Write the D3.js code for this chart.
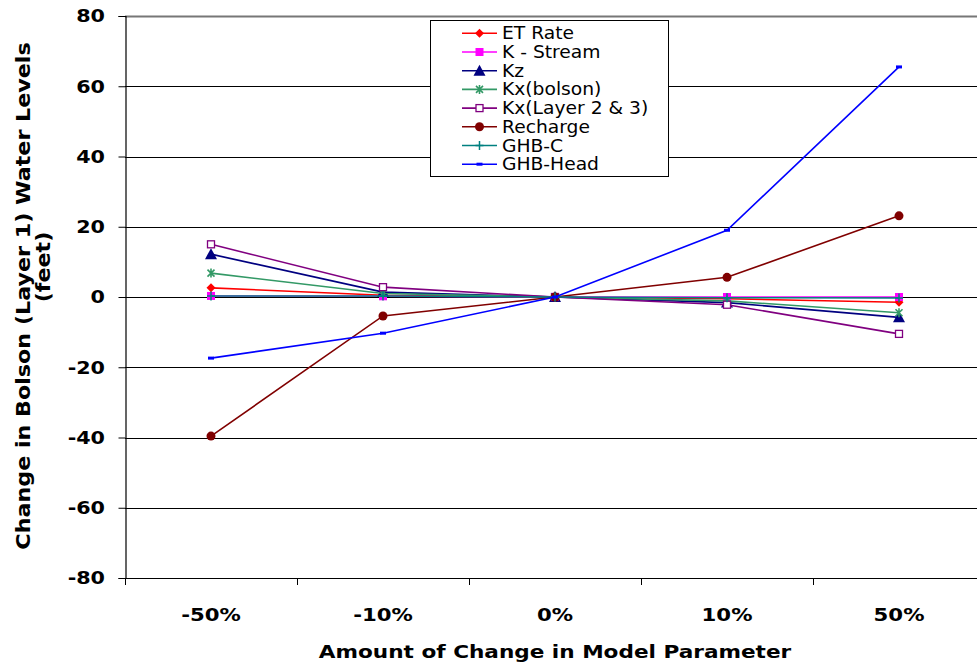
<!DOCTYPE html>
<html>
<head>
<meta charset="utf-8">
<script src="https://cdn.jsdelivr.net/npm/d3@7"></script>
<style>
  html, body { margin: 0; padding: 0; background: #fff; }
  svg { display: block; }
  text { font-family: "DejaVu Sans", Verdana, sans-serif; }
</style>
</head>
<body>
<svg id="chart" width="977" height="667"></svg>
<script>
// Sensitivity of bolson (Layer 1) water levels to model parameter changes
const categories = ["-50%", "-10%", "0%", "10%", "50%"];
const yTicks = [-80, -60, -40, -20, 0, 20, 40, 60, 80];

const etRate      = [2.6, 0.5, 0, -0.5, -1.5];
const kStream     = [0.3, 0.2, 0, 0, 0];
const kz          = [12.2, 1.4, 0, -1.6, -5.8];
const kxBolson    = [6.8, 1.0, 0, -1.1, -4.5];
const kxLayer23   = [15.0, 2.8, 0, -2.2, -10.5];
const recharge    = [-39.6, -5.4, 0, 5.6, 23.1];
const ghbC        = [0.3, 0.3, 0, -0.2, -0.3];
const ghbHead     = [-17.4, -10.3, 0, 19.0, 65.5];

const seriesNames  = ["ET Rate", "K - Stream", "Kz", "Kx(bolson)", "Kx(Layer 2 & 3)", "Recharge", "GHB-C", "GHB-Head"];
const seriesValues = [etRate, kStream, kz, kxBolson, kxLayer23, recharge, ghbC, ghbHead];
const seriesColors = ["#ff0000", "#ff00ff", "#000080", "#339966", "#800080", "#800000", "#008080", "#0000ff"];
const seriesMarkers = ["diamond", "square", "triangle", "asterisk", "openSquare", "circle", "plus", "dash"];

const svg = d3.select("#chart");

const plot = { left: 125, top: 16, bottom: 578, band: 172 };

const x = d3.scaleBand()
  .domain(categories)
  .range([plot.left, plot.left + plot.band * categories.length])
  .paddingInner(0).paddingOuter(0);

const y = d3.scaleLinear().domain([-80, 80]).range([plot.bottom, plot.top]);

const cx = c => x(c) + x.bandwidth() / 2;

// horizontal gridlines
svg.append("g")
  .selectAll("line")
  .data(yTicks)
  .join("line")
  .attr("x1", plot.left).attr("x2", 977)
  .attr("y1", d => Math.round(y(d)) + 0.5).attr("y2", d => Math.round(y(d)) + 0.5)
  .attr("stroke", d => d === 80 ? "#777" : "#000")
  .attr("stroke-width", d => d === 80 ? 2 : 1);

// y axis (line and tick marks from d3.axisLeft, labels drawn alongside)
const yAxis = svg.append("g")
  .attr("transform", `translate(${plot.left + 0.5},0)`)
  .call(d3.axisLeft(y).tickValues(yTicks).tickSize(7).tickFormat(""));
yAxis.select(".domain").attr("stroke", "#000").attr("stroke-width", 1.2);
yAxis.selectAll(".tick line").attr("stroke", "#000");

svg.append("g")
  .selectAll("text")
  .data(yTicks)
  .join("text")
  .attr("transform", d => `translate(105,${y(d)}) scale(1.15,1)`)
  .attr("dy", "0.36em")
  .attr("text-anchor", "end")
  .style("font-weight", "bold")
  .style("font-size", "18px")
  .text(d => String(d));

// x axis: band boundaries as ticks
const xAxisG = svg.append("g");
xAxisG.append("line")
  .attr("x1", plot.left).attr("x2", 977)
  .attr("y1", plot.bottom + 0.5).attr("y2", plot.bottom + 0.5)
  .attr("stroke", "#000").attr("stroke-width", 1.2);
xAxisG.selectAll("line.tick")
  .data(categories)
  .join("line")
  .attr("class", "tick")
  .attr("x1", d => Math.round(x(d)) + 0.5).attr("x2", d => Math.round(x(d)) + 0.5)
  .attr("y1", plot.bottom).attr("y2", plot.bottom + 7)
  .attr("stroke", "#000");
xAxisG.selectAll("text")
  .data(categories)
  .join("text")
  .attr("transform", d => `translate(${cx(d)},621) scale(1.25,1)`)
  .attr("text-anchor", "middle")
  .style("font-weight", "bold")
  .style("font-size", "17px")
  .text(d => d);

// axis titles
svg.append("text")
  .attr("transform", "translate(555,658) scale(1.27,1)")
  .attr("text-anchor", "middle")
  .style("font-weight", "bold")
  .style("font-size", "17px")
  .text("Amount of Change in Model Parameter");

svg.append("text")
  .attr("transform", "translate(30,296) rotate(-90) scale(1.17,1)")
  .attr("text-anchor", "middle")
  .style("font-weight", "bold")
  .style("font-size", "19px")
  .text("Change in Bolson (Layer 1) Water Levels");
svg.append("text")
  .attr("transform", "translate(50,267) rotate(-90) scale(1.17,1)")
  .attr("text-anchor", "middle")
  .style("font-weight", "bold")
  .style("font-size", "19px")
  .text("(feet)");

// marker shapes
function marker(sel, type, color) {
  switch (type) {
    case "diamond":
      sel.append("path").attr("d", "M0,-4.5L4.5,0L0,4.5L-4.5,0Z").attr("fill", color); break;
    case "square":
      sel.append("rect").attr("x", -4).attr("y", -4).attr("width", 8).attr("height", 8).attr("fill", color); break;
    case "triangle":
      sel.append("path").attr("d", "M0,-6L6,5L-6,5Z").attr("fill", color); break;
    case "asterisk":
      sel.append("path").attr("d", "M-3.5,-3.5L3.5,3.5M-3.5,3.5L3.5,-3.5M0,-4.5L0,4.5")
        .attr("stroke", color).attr("stroke-width", 1.6).attr("fill", "none"); break;
    case "openSquare":
      sel.append("rect").attr("x", -3.5).attr("y", -3.5).attr("width", 7).attr("height", 7)
        .attr("fill", "#fff").attr("stroke", color).attr("stroke-width", 1.3); break;
    case "circle":
      sel.append("circle").attr("r", 4.5).attr("fill", color); break;
    case "plus":
      sel.append("path").attr("d", "M-4,0L4,0M0,-4.5L0,4.5")
        .attr("stroke", color).attr("stroke-width", 1.5).attr("fill", "none"); break;
    case "dash":
      sel.append("rect").attr("x", -3).attr("y", -1.5).attr("width", 6).attr("height", 3).attr("fill", color); break;
  }
}

// series lines and markers
const line = d3.line().x((d, i) => cx(categories[i])).y(d => y(d));
const seriesG = svg.append("g");
seriesValues.forEach((vals, s) => {
  const g = seriesG.append("g");
  g.append("path")
    .attr("d", line(vals))
    .attr("fill", "none")
    .attr("stroke", seriesColors[s])
    .attr("stroke-width", 1.6);
  vals.forEach((v, i) => {
    const m = g.append("g").attr("transform", `translate(${cx(categories[i])},${y(v)})`);
    marker(m, seriesMarkers[s], seriesColors[s]);
  });
});

// legend
const legend = svg.append("g");
legend.append("rect")
  .attr("x", 430.5).attr("y", 20.5).attr("width", 238).attr("height", 156)
  .attr("fill", "#fff").attr("stroke", "#000").attr("stroke-width", 1);
seriesNames.forEach((name, s) => {
  const ly = 33.3 + s * 18.7;
  const row = legend.append("g").attr("transform", `translate(0,${ly})`);
  row.append("line").attr("x1", 462).attr("x2", 497).attr("y1", 0).attr("y2", 0)
    .attr("stroke", seriesColors[s]).attr("stroke-width", 1.6);
  const m = row.append("g").attr("transform", "translate(479.5,0)");
  marker(m, seriesMarkers[s], seriesColors[s]);
  row.append("text")
    .attr("transform", "translate(502,6) scale(1.1,1)")
    .style("font-size", "17px")
    .attr("fill", "#000")
    .text(name);
});
</script>
</body>
</html>
